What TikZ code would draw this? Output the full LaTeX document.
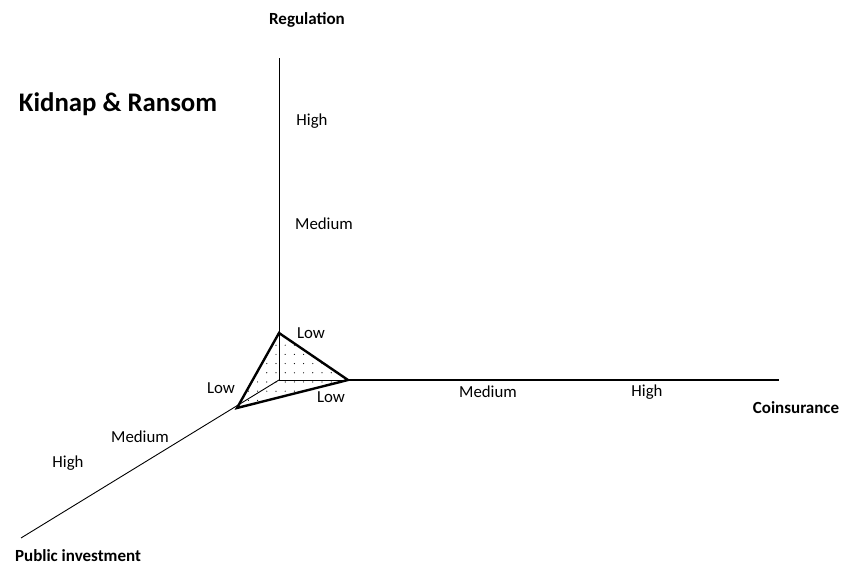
\documentclass[tikz,border=0pt]{standalone}
\usepackage{fontspec}
\setmainfont{Carlito}
\usepackage{tikz}
\usetikzlibrary{positioning,patterns.meta}
\tikzstyle{level} = [font=\fontsize{8.4}{10}\selectfont, inner sep=1pt]
\tikzstyle{axisname} = [font=\bfseries\fontsize{8.5}{10}\selectfont, inner sep=1pt]
\tikzstyle{title} = [font=\bfseries\fontsize{13.4}{16}\selectfont, inner sep=1pt]
\tikzstyle{thinaxis} = [line width=0.45pt]
\tikzstyle{mainaxis} = [line width=0.75pt]
\tikzstyle{edge} = [line width=1.2pt, line join=miter]

\begin{document}
\begin{tikzpicture}[x=0.5pt,y=-0.5pt]
\useasboundingbox (0,0) rectangle (842,566);
% axes
\coordinate (o) at (279,380);
\coordinate (regtop) at (279,58);
\coordinate (coinend) at (779,380);
\coordinate (pubend) at (21,538);
% triangle corners
\coordinate (t1) at (279,333);
\coordinate (t2) at (348,380);
\coordinate (t3) at (237,408);
\fill[pattern={Dots[distance=4.6pt,radius=0.3pt]}] (t1) -- (t2) -- (t3) -- cycle;
\draw [thinaxis] (o) -- (regtop);
\draw [thinaxis] (o) -- (t2);
\draw [mainaxis] (t2) -- (coinend);
\draw [thinaxis] (o) -- (pubend);
\draw [edge] (t1) -- (t2) -- (t3) -- cycle;
% labels
\node (kr) [title] at (118,104) {Kidnap \& Ransom};
\node (regname) [axisname] at (307,20) {Regulation};
\node (coinname) [axisname] at (796,408) {Coinsurance};
\node (pubname) [axisname] at (78,556) {Public investment};
\node (rlow) [level] at (311,333) {Low};
\node (rmed) [level] at (324,224) {Medium};
\node (rhigh) [level] at (312,121) {High};
\node (clow) [level] at (331,397) {Low};
\node (cmed) [level] at (488,392) {Medium};
\node (chigh) [level] at (647,392) {High};
\node (plow) [level] at (221,388) {Low};
\node (pmed) [level] at (140,437) {Medium};
\node (phigh) [level] at (68,463) {High};
\end{tikzpicture}
\end{document}
